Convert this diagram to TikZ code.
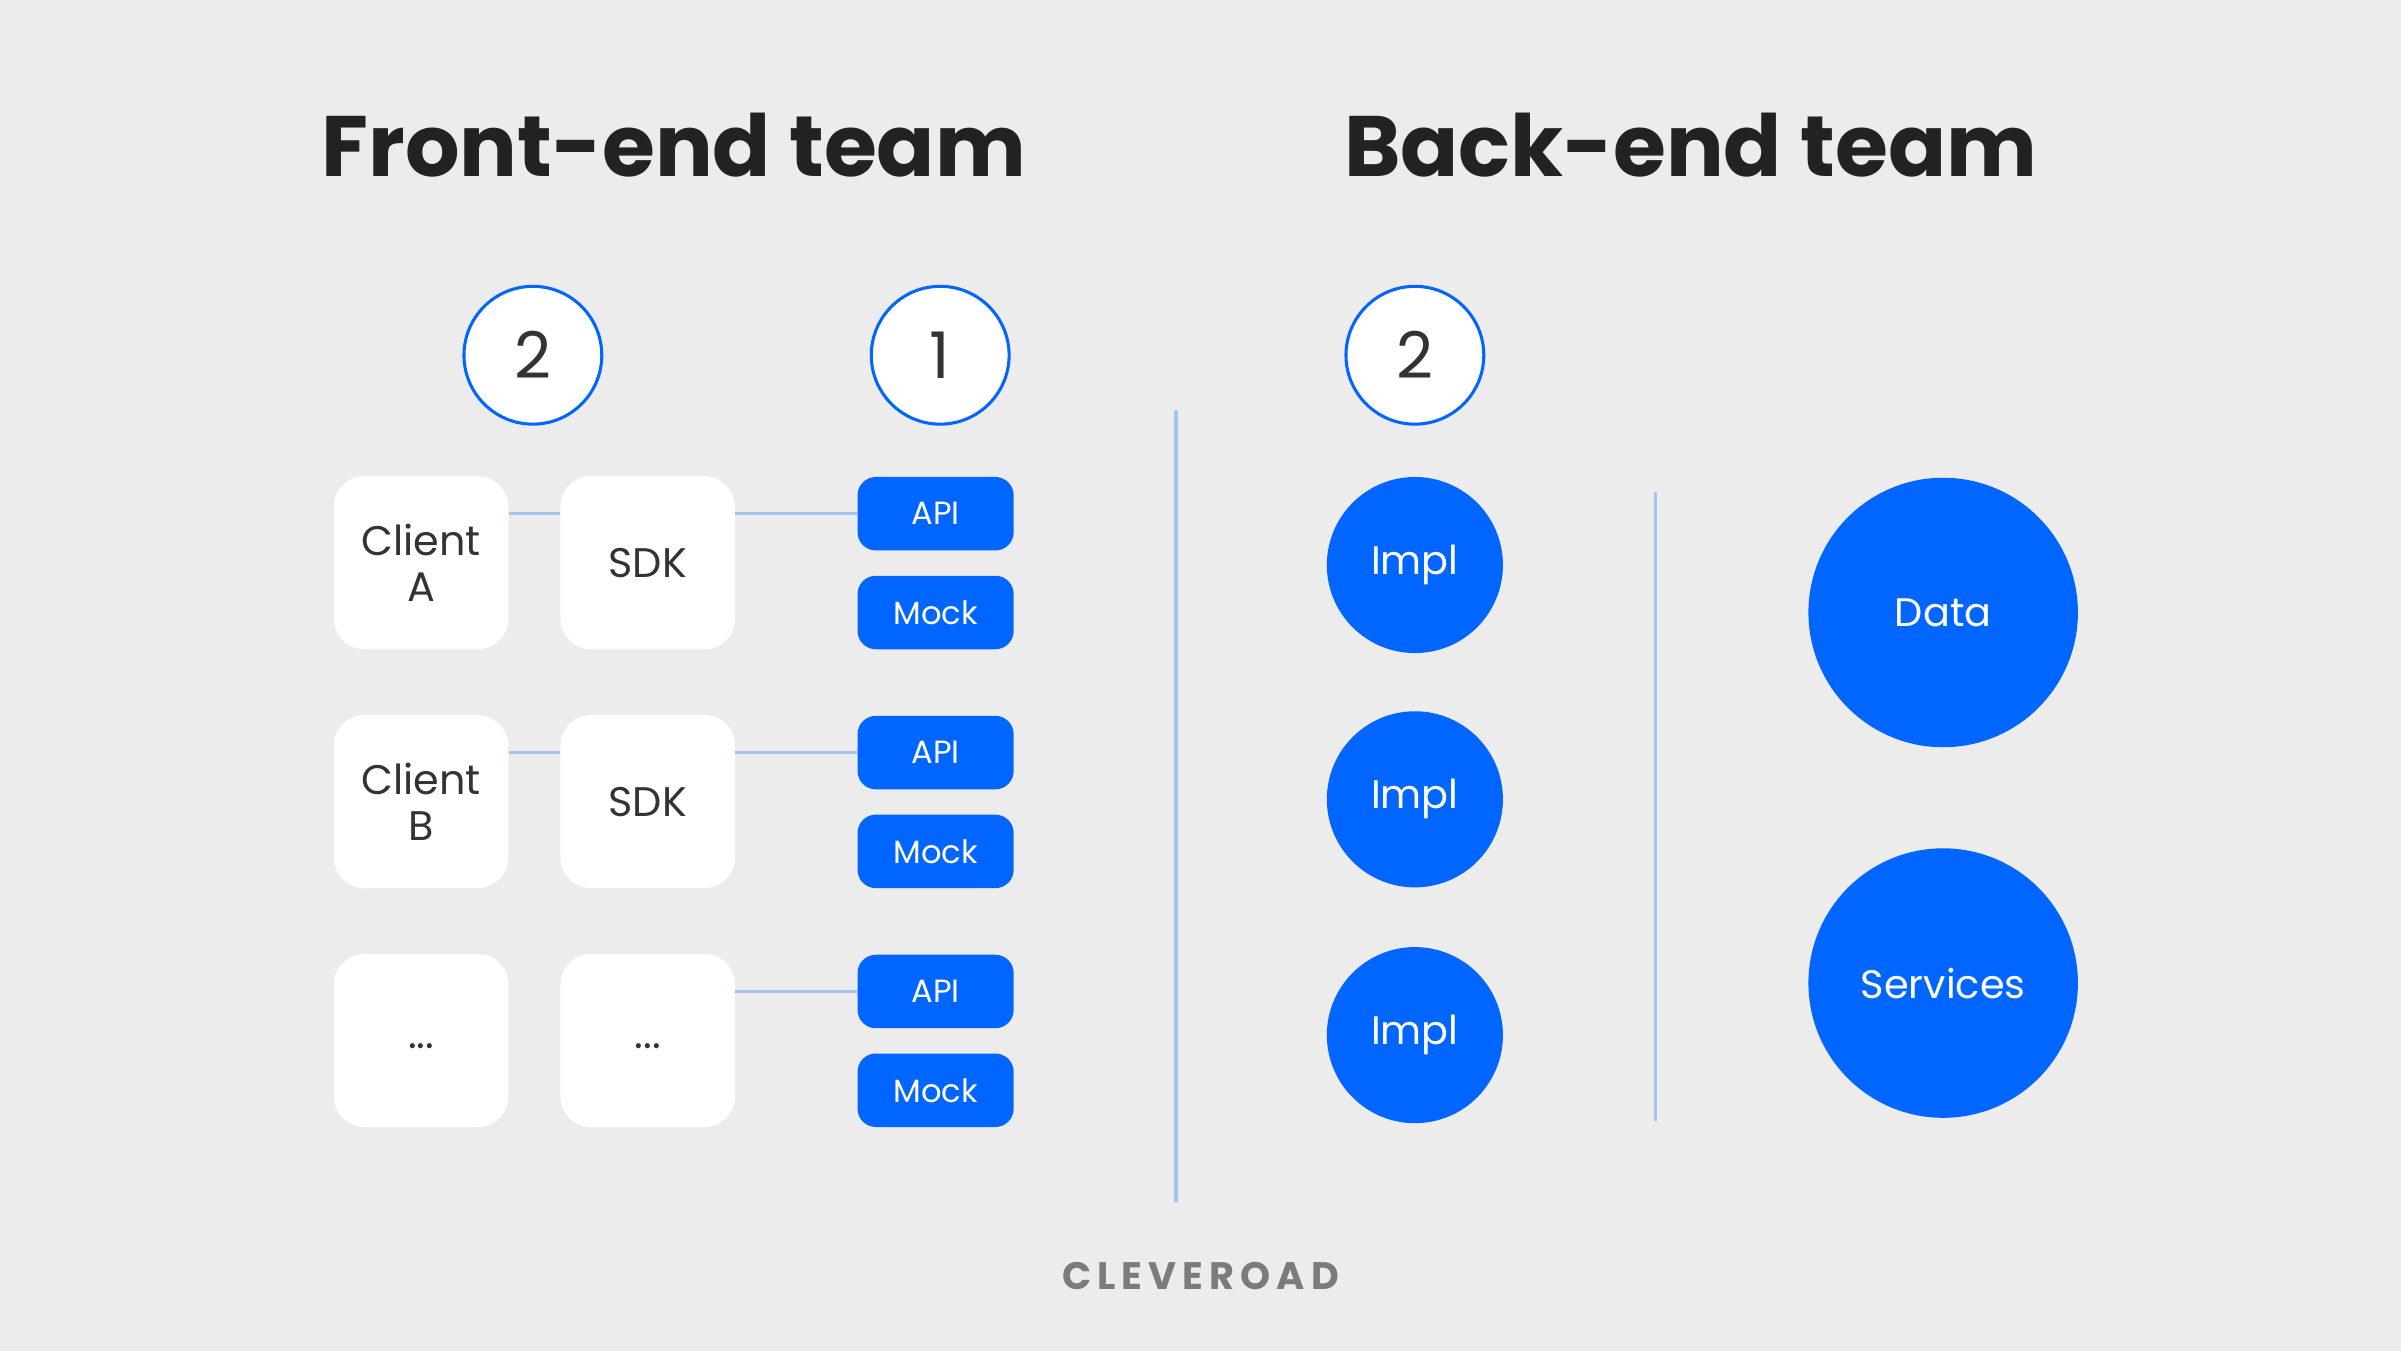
\documentclass[tikz,border=0pt]{standalone}
\usepackage{fontspec}
\setmainfont{Poppins}
\newfontfamily\logofont[LetterSpace=16]{Poppins}
\usetikzlibrary{positioning}
\definecolor{cvblue}{HTML}{0066FF}
\definecolor{cvline}{HTML}{A3C4F5}
\definecolor{cvbg}{HTML}{ECECEC}
\definecolor{cvtext}{HTML}{333333}
\definecolor{cvtitle}{HTML}{222222}
\definecolor{cvgray}{HTML}{7B7B7B}
\tikzset{
  whitebox/.style={fill=white, rounded corners=20pt, minimum width=114pt, minimum height=113pt,
    inner sep=0pt, align=center, text=cvtext, font=\fontsize{27}{30}\selectfont},
  bluetag/.style={fill=cvblue, rounded corners=12pt, minimum width=102pt, minimum height=48pt,
    inner sep=0pt, text=white, font=\fontsize{21}{24}\selectfont},
  numcircle/.style={circle, draw=cvblue, line width=2pt, fill=white, minimum size=90pt,
    inner sep=0pt, text=cvtext, font=\fontsize{42}{46}\selectfont},
  implcircle/.style={circle, fill=cvblue, minimum size=115pt, inner sep=0pt,
    text=white, font=\fontsize{26}{29}\selectfont},
  bigcircle/.style={circle, fill=cvblue, minimum size=176pt, inner sep=0pt,
    text=white, font=\fontsize{26}{29}\selectfont},
  title/.style={anchor=base, text=cvtitle, font=\fontsize{56}{64}\selectfont\bfseries},
  link/.style={draw=cvline, line width=2pt},
}
\newcommand{\lowdots}{\raisebox{-5pt}[0pt][0pt]{...}}
\begin{document}
\begin{tikzpicture}[x=1pt, y=-1pt]
    \fill[cvbg] (0,0) rectangle (1568,882);
    \useasboundingbox (0,0) rectangle (1568,882);

    % titles
    \node[title] (front) at (440,115) {Front-end team};
    \node[title] (back) at (1104,115) {Back-end team};

    % front-end team
    \node[numcircle] (nclient) at (348,232) {2};
    \node[numcircle] (napi) at (614,232) {1};

    \node[whitebox] (clientA) at (275,367.5) {Client\\A};
    \node[whitebox] (sdkA) at (423,367.5) {SDK};
    \node[bluetag] (apiA) at (611,335.5) {API};
    \node[bluetag] (mockA) at (611,400) {Mock};
    \draw[link] (clientA.east |- apiA) -- (sdkA.west |- apiA);
    \draw[link] (sdkA.east |- apiA) -- (apiA.west);

    \node[whitebox] (clientB) at (275,523.5) {Client\\B};
    \node[whitebox] (sdkB) at (423,523.5) {SDK};
    \node[bluetag] (apiB) at (611,491.5) {API};
    \node[bluetag] (mockB) at (611,556) {Mock};
    \draw[link] (clientB.east |- apiB) -- (sdkB.west |- apiB);
    \draw[link] (sdkB.east |- apiB) -- (apiB.west);

    \node[whitebox] (clientC) at (275,679.5) {\lowdots};
    \node[whitebox] (sdkC) at (423,679.5) {\lowdots};
    \node[bluetag] (apiC) at (611,647.5) {API};
    \node[bluetag] (mockC) at (611,712) {Mock};
    \draw[link] (sdkC.east |- apiC) -- (apiC.west);

    % dividers
    \coordinate (d1top) at (768,268);
    \coordinate (d1bot) at (768,785);
    \draw[link] (d1top) -- (d1bot);
    \coordinate (d2top) at (1081,321);
    \coordinate (d2bot) at (1081,732);
    \draw[link] (d2top) -- (d2bot);

    % back-end team
    \node[numcircle] (nimpl) at (924,232) {2};
    \node[implcircle] (implA) at (924,369) {Impl};
    \node[implcircle] (implB) at (924,522) {Impl};
    \node[implcircle] (implC) at (924,676) {Impl};
    \node[bigcircle] (data) at (1269,400) {Data};
    \node[bigcircle] (services) at (1269,642) {Services};

    \node[text=cvgray, font=\fontsize{25}{29}\selectfont\logofont\bfseries] (logo) at (784,833) {CLEVEROAD};
\end{tikzpicture}
\end{document}
